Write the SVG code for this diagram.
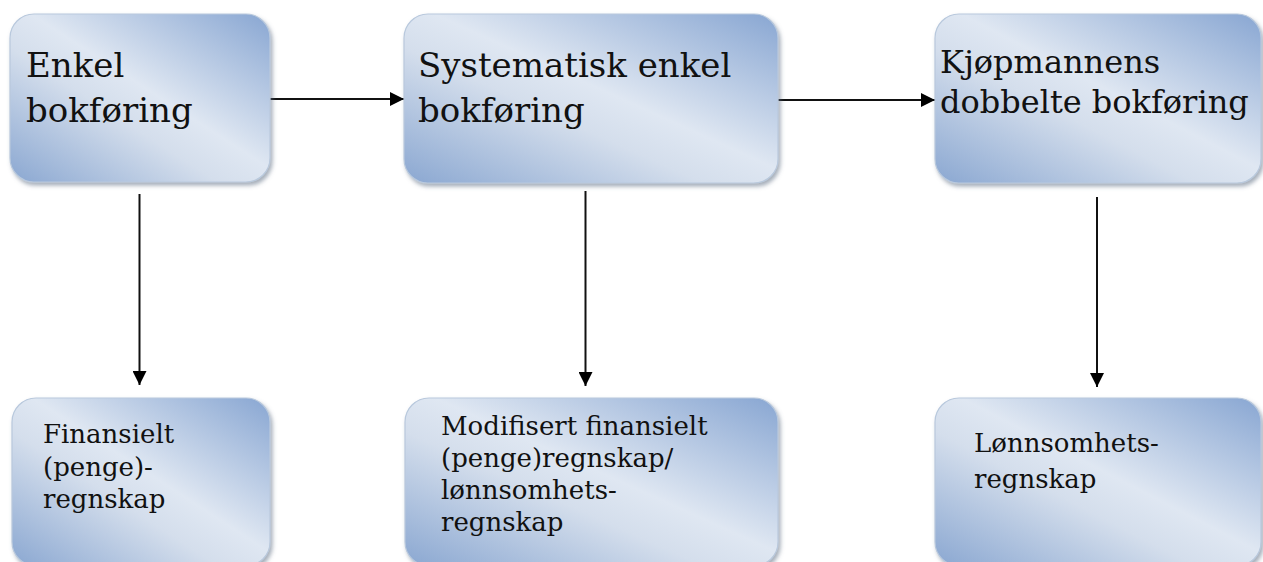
<svg xmlns="http://www.w3.org/2000/svg" width="1263" height="562" viewBox="0 0 1263 562">
  <defs>
    <linearGradient id="boxFill" x1="1" y1="0" x2="0" y2="1">
      <stop offset="0" stop-color="#88a6d2"/>
      <stop offset="0.46" stop-color="#dfe7f2"/>
      <stop offset="0.6" stop-color="#d4deec"/>
      <stop offset="1" stop-color="#8aa7d1"/>
    </linearGradient>
    <filter id="shadow" x="-5%" y="-5%" width="112%" height="115%">
      <feDropShadow dx="2" dy="3" stdDeviation="2" flood-color="#5a6a80" flood-opacity="0.55"/>
    </filter>
    <marker id="head" viewBox="0 0 10 10" refX="10" refY="5" markerUnits="userSpaceOnUse" markerWidth="15" markerHeight="14" orient="auto">
      <path d="M0,0 L10,5 L0,10 z" fill="#000"/>
    </marker>
  </defs>
  <style>
    .box { fill: url(#boxFill); stroke: #b9c9dd; stroke-width: 1.2; filter: url(#shadow); }
    .big { font-family: "DejaVu Serif", "Liberation Serif", serif; font-size: 34px; fill: #111; }
    .mid { font-family: "DejaVu Serif", "Liberation Serif", serif; font-size: 32px; fill: #111; }
    .small { font-family: "DejaVu Serif", "Liberation Serif", serif; font-size: 26px; fill: #111; }
    .link { stroke: #111; stroke-width: 2; fill: none; marker-end: url(#head); }
  </style>
  <rect width="1263" height="562" fill="#fff"/>

  <g id="connectors">
    <line class="link" x1="268" y1="99" x2="404" y2="99"/>
    <line class="link" x1="773" y1="100" x2="935" y2="100"/>
    <line class="link" x1="139.5" y1="194" x2="139.5" y2="385"/>
    <line class="link" x1="585.5" y1="191" x2="585.5" y2="386"/>
    <line class="link" x1="1097" y1="197" x2="1097" y2="387"/>
  </g>

  <g id="enkel">
    <rect class="box" x="10" y="14" width="260" height="168" rx="24"/>
    <text class="big" x="26" y="77">Enkel</text>
    <text class="big" x="26" y="122">bokføring</text>
  </g>

  <g id="systematisk">
    <rect class="box" x="404" y="14" width="374" height="169" rx="24"/>
    <text class="big" x="418" y="77">Systematisk enkel</text>
    <text class="big" x="418" y="122">bokføring</text>
  </g>

  <g id="dobbelte">
    <rect class="box" x="935" y="14" width="326" height="169" rx="24"/>
    <text class="mid" x="940" y="73">Kjøpmannens</text>
    <text class="mid" x="940" y="113">dobbelte bokføring</text>
  </g>

  <g id="finansielt">
    <rect class="box" x="12" y="398" width="258" height="168" rx="24"/>
    <text class="small" x="43" y="443">Finansielt</text>
    <text class="small" x="43" y="476">(penge)-</text>
    <text class="small" x="43" y="508">regnskap</text>
  </g>

  <g id="modifisert">
    <rect class="box" x="405" y="398" width="373" height="168" rx="24"/>
    <text class="small" x="441" y="435">Modifisert finansielt</text>
    <text class="small" x="441" y="467">(penge)regnskap/</text>
    <text class="small" x="441" y="499">lønnsomhets-</text>
    <text class="small" x="441" y="531">regnskap</text>
  </g>

  <g id="lonnsomhet">
    <rect class="box" x="935" y="398" width="326" height="168" rx="24"/>
    <text class="small" x="974" y="452">Lønnsomhets-</text>
    <text class="small" x="974" y="488">regnskap</text>
  </g>
</svg>
